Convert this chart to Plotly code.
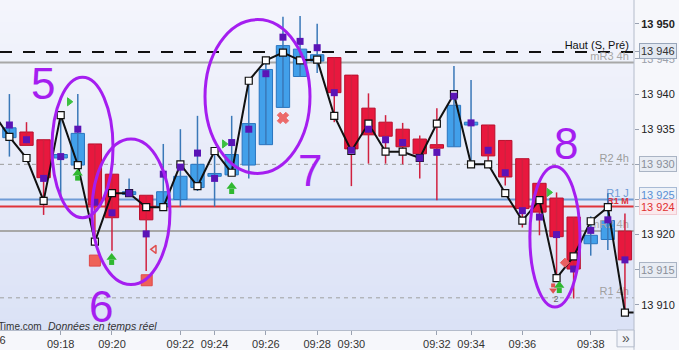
import plotly.graph_objects as go

# ---------------- data ----------------
idx = list(range(37))
opens  = [13933.8,13934.6,13933.5,13930.9,13929.9,13932.9,13928.6,13925.7,13925.6,13924.0,
          13925.0,13926.7,13928.3,13928.5,13929.9,13932.8,13938.1,13942.5,13944.7,13945.2,
          13942.7,13938.0,13936.0,13935.0,13933.6,13932.8,13932.5,13935.6,13935.6,13933.4,
          13930.8,13927.3,13925.2,13922.5,13918.7,13919.3,13920.5]
highs  = [13940.0,13936.0,13933.5,13936.9,13940.0,13932.9,13928.6,13928.0,13925.6,13932.9,
          13935.0,13936.9,13931.9,13936.9,13941.9,13944.8,13951.0,13951.1,13950.0,13945.2,
          13942.7,13940.1,13937.0,13935.9,13934.1,13938.0,13944.0,13942.0,13935.6,13933.4,
          13930.8,13927.3,13926.0,13922.5,13922.6,13925.9,13923.0]
lows   = [13931.1,13932.7,13922.8,13925.2,13929.9,13919.1,13917.7,13925.5,13914.8,13924.0,
          13924.0,13926.2,13924.0,13928.4,13928.0,13932.8,13938.1,13942.5,13943.0,13936.0,
          13926.9,13930.1,13930.1,13930.0,13928.0,13924.9,13932.5,13930.0,13930.0,13927.0,
          13921.0,13919.9,13913.8,13910.9,13917.0,13917.8,13908.9]
closes = [13935.2,13932.7,13928.1,13931.4,13934.4,13924.2,13922.4,13926.1,13922.1,13926.1,
          13928.3,13930.0,13928.7,13931.4,13935.8,13943.5,13946.9,13946.4,13945.6,13940.2,
          13932.2,13934.2,13934.0,13932.5,13931.5,13932.3,13938.4,13936.0,13931.2,13928.2,
          13923.7,13923.2,13919.7,13915.1,13919.9,13922.0,13916.4]

# purple indicator squares (one per candle)
purple = [13935.6,13933.5,13928.0,13931.1,13935.0,13924.6,13923.1,13925.9,13920.1,13928.6,
          13929.6,13931.6,13928.0,13933.1,13935.0,13942.9,13948.1,13947.5,13946.6,13940.2,
          13932.0,13935.0,13933.5,13933.1,13930.9,13931.7,13939.7,13935.9,13932.0,13928.8,
          13923.4,13922.5,13920.0,13915.1,13920.6,13922.1,13916.4]

# black line indicator (from index -1 to 37)
line_x = list(range(-1, 38))
line_y = [13937.5,13933.9,13930.9,13924.8,13937.0,13929.9,13919.0,13925.9,13925.9,13923.9,13923.9,
          13930.0,13926.9,13931.9,13928.8,13941.9,13944.8,13945.9,13944.8,13944.9,13936.9,
          13931.9,13935.8,13931.8,13931.8,13930.9,13935.8,13940.0,13930.0,13930.0,13925.9,
          13922.0,13924.9,13913.8,13916.9,13921.9,13923.9,13908.9,13908.9]

# time axis labels
time_pos    = [3, 6, 10, 12, 15, 18, 20, 25, 27, 30, 34]
time_labels = ["09:18","09:20","09:22","09:24","09:26","09:28","09:30","09:32","09:34","09:36","09:38"]

# price axis
ytick_vals   = [13950, 13945, 13940, 13935, 13920, 13910]
ytick_labels = ["<b>13 950</b>", "<span style='color:#9aa0aa'>13 945</span>",
                "13 940", "13 935", "13 920", "13 910"]

# reference levels
level_vals   = [13946, 13944.5, 13930, 13925, 13924, 13920.5, 13911]
level_names  = ["Haut (S, Pré)", "mR3 4h", "R2 4h", "R1 J", "<b>R1 M</b>", "mR2 4h", "R1 4h"]
level_colors = ["#111111", "#a8a8a8", "#9c9c9c", "#6f9bd6", "#e0343a", "#a8a8a8", "#a0a0a0"]
level_dash   = ["12px,11px", "solid", "4px,4px", "solid", "solid", "solid", "4px,4px"]
level_width  = [2, 2, 1, 2, 2, 2, 1]

# boxed price labels
box_vals   = [13946, 13930, 13925, 13924, 13915]
box_labels = ["13 946", "13 930", "13 925", "13 924", "13 915"]

# signals
green_tri_x = [3.5, 12.57, 31.56]
green_tri_y = [13938.9, 13932.9, 13926.0]
green_up_x  = [3.99, 5.98, 13.0, 32.16]
green_up_y  = [13928.5, 13916.5, 13926.6, 13912.5]
red_dn_x, red_dn_y = [31.8], [13912.3]
red_sq_x, red_sq_y = [5.0, 8.03], [13916.3, 13913.5]
red_x_x, red_x_y = [16.0], [13936.6]
red_tl_x, red_tl_y = [8.47], [13917.9]
red_dm_x, red_dm_y = [32.49], [13916.0]
count_x, count_y, count_txt = [31.97], [13910.7], ["2"]

# hand-drawn ellipses and numbers
ellipses = [(2.49, 6.06, 13922.4, 13942.4),
            (4.83, 9.39, 13912.9, 13933.6),
            (11.44, 17.58, 13928.7, 13950.6),
            (30.44, 33.37, 13909.7, 13929.7)]
numbers   = ["5", "6", "7", "8"]
numbers_x = [1.96, 5.36, 17.58, 32.55]
numbers_y = [13941.5, 13909.7, 13929.1, 13932.9]

# ---------------- figure ----------------
FONT = "Liberation Sans, Arial, sans-serif"
BLUE_F, BLUE_E, BLUE_W = "#42a0ea", "#2a75bf", "#3a78b8"
RED_F, RED_E, RED_W = "#e8183e", "#b80f2c", "#d0203f"
VIOLET = "#a51ef0"
XR = [-0.55, 36.53]
YR = [13906.42, 13953.39]
PX_PER_PT = 333 / (YR[1] - YR[0])

fig = go.Figure()

# level labels (drawn under the candles)
fig.add_trace(go.Scatter(x=[XR[1] - 0.3] * len(level_vals), y=level_vals, mode="text",
                         text=level_names, textposition="top left",
                         textfont=dict(family=FONT, size=[11, 11, 11, 11, 9, 11, 11],
                                       color=level_colors),
                         showlegend=False, hoverinfo="skip"))

up = [c >= o for o, c in zip(opens, closes)]

# wicks
for flag, col in [(True, BLUE_W), (False, RED_W)]:
    wx, wy = [], []
    for i, o, h, l, c, u in zip(idx, opens, highs, lows, closes, up):
        if u == flag:
            wx += [i, i, None]
            wy += [l, h, None]
    fig.add_trace(go.Scatter(x=wx, y=wy, mode="lines", line=dict(color=col, width=1.5),
                             hoverinfo="skip", showlegend=False))

# bodies
for flag, fc, ec in [(True, BLUE_F, BLUE_E), (False, RED_F, RED_E)]:
    bx = [i for i, u in zip(idx, up) if u == flag]
    bb = [min(opens[i], closes[i]) for i in bx]
    bh = [abs(closes[i] - opens[i]) for i in bx]
    fig.add_trace(go.Bar(x=bx, y=bh, base=bb, width=0.78,
                         marker=dict(color=fc, line=dict(color=ec, width=1)),
                         showlegend=False, hoverinfo="skip"))

# indicator line
fig.add_trace(go.Scatter(x=line_x, y=line_y, mode="lines+markers",
                         line=dict(color="#111111", width=2),
                         marker=dict(symbol="square", size=7, color="white",
                                     line=dict(color="#111111", width=1.2)),
                         showlegend=False, hoverinfo="skip"))

# purple squares
fig.add_trace(go.Scatter(x=idx, y=purple, mode="markers",
                         marker=dict(symbol="square", size=7, color="#5b14b6"),
                         showlegend=False, hoverinfo="skip"))

# signals
def add_markers(xs, ys, symbol, color, size, lc=None, lw=1):
    fig.add_trace(go.Scatter(x=xs, y=ys, mode="markers",
                             marker=dict(symbol=symbol, size=size, color=color,
                                         line=dict(color=lc or color, width=lw)),
                             showlegend=False, hoverinfo="skip"))

def add_block_arrow(xs, ys, direction, color, head, stem):
    s = 1 if direction == "up" else -1
    head_y = [y + s * 1.7 / PX_PER_PT for y in ys]
    stem_y = [y - s * 3.3 / PX_PER_PT for y in ys]
    add_markers(xs, stem_y, "square", color, stem, lw=0)
    add_markers(xs, head_y, "triangle-" + direction, color, head, lw=0)

add_markers(green_tri_x, green_tri_y, "triangle-right", "#3cc040", 7)
add_block_arrow(green_up_x, green_up_y, "up", "#2fb830", 9, 5)
add_block_arrow(red_dn_x, red_dn_y, "down", "#e05050", 7, 4)
add_markers(red_sq_x, red_sq_y, "square", "#ee6258", 11, "#e04848")
add_markers(red_x_x, red_x_y, "x", "#ec6a6a", 10)
add_markers(red_tl_x, red_tl_y, "triangle-left", "rgba(0,0,0,0)", 7, "#e05050", 1.5)
add_markers(red_dm_x, red_dm_y, "diamond", "#e86060", 7)
fig.add_trace(go.Scatter(x=count_x, y=count_y, mode="text", text=count_txt,
                         textfont=dict(family=FONT, size=9, color="#666"),
                         showlegend=False, hoverinfo="skip"))

shapes = []
# background gradient
N = 30
top, bot = (244, 245, 252), (219, 226, 246)
for k in range(N):
    t = (k + 0.5) / N
    col = tuple(round(top[j] + (bot[j] - top[j]) * t) for j in range(3))
    shapes.append(dict(type="rect", xref="paper", yref="paper", x0=0, x1=1,
                       y0=1 - (k + 1) / N, y1=1 - k / N + 0.001, layer="below",
                       line=dict(width=0), fillcolor="rgb(%d,%d,%d)" % col))
# reference lines
for v, c, d, w in zip(level_vals, level_colors, level_dash, level_width):
    shapes.append(dict(type="line", xref="paper", yref="y", x0=0, x1=1, y0=v, y1=v,
                       layer="below", line=dict(color=c, width=w, dash=d)))
# ellipses
for x0, x1, y0, y1 in ellipses:
    shapes.append(dict(type="circle", xref="x", yref="y", x0=x0, x1=x1, y0=y0, y1=y1,
                       line=dict(color=VIOLET, width=3), layer="above"))
# right separator and » button
shapes.append(dict(type="line", xref="paper", yref="paper", x0=1, x1=1, y0=-0.06, y1=1,
                   line=dict(color="#b4bccb", width=1)))
shapes.append(dict(type="rect", xref="paper", yref="paper", x0=617 / 634, x1=1,
                   y0=-17 / 333, y1=0, fillcolor="#f2f4fa", line=dict(color="#b4bccb", width=1)))

annotations = []
# boxed price labels
box_text  = ["#333333", "#8a8f99", "#5a8fd4", "#e03030", "#8a8f99"]
box_bg    = ["#e2e8f1", "#e8ecf3", "#eef2f8", "#fbe9ed", "#e8ecf3"]
box_bd    = ["#98a6ba", "#aab4c4", "#a9bbd5", "#f2cbd2", "#aab4c4"]
box_shift = [1, 0, 4, -1, 0]
for v, t, tc, bg, bd, s in zip(box_vals, box_labels, box_text, box_bg, box_bd, box_shift):
    annotations.append(dict(x=1, xref="paper", y=v, yref="y", text=t, showarrow=False,
                            xanchor="left", yanchor="middle", xshift=5, yshift=s,
                            bgcolor=bg, bordercolor=bd, borderwidth=1, borderpad=1,
                            font=dict(family=FONT, size=11, color=tc)))
# big hand-written numbers
for t, x, y in zip(numbers, numbers_x, numbers_y):
    annotations.append(dict(x=x, y=y, xref="x", yref="y", text=t, showarrow=False,
                            font=dict(family=FONT, size=44, color=VIOLET)))
# footer texts
annotations.append(dict(x=44 / 634, xref="paper", y=-4 / 333, yref="paper", text="ProRealTime.com",
                        showarrow=False, xanchor="right", yanchor="bottom",
                        font=dict(family=FONT, size=10, color="#333333")))
annotations.append(dict(x=46 / 634, xref="paper", y=-4 / 333, yref="paper",
                        text="<i>Données en temps réel</i>", showarrow=False,
                        xanchor="left", yanchor="bottom",
                        font=dict(family=FONT, size=10.5, color="#333333")))
annotations.append(dict(x=-7.7 / 634, xref="paper", y=-10 / 333, yref="paper", text="09:16",
                        showarrow=False, xanchor="center", yanchor="middle",
                        font=dict(family=FONT, size=11, color="#333333")))
annotations.append(dict(x=625.5 / 634, xref="paper", y=-8.5 / 333, yref="paper", text="»",
                        showarrow=False, xanchor="center", yanchor="middle",
                        font=dict(family=FONT, size=14, color="#555555")))

fig.update_layout(
    width=679, height=350, autosize=False,
    margin=dict(l=0, r=45, t=0, b=17, pad=0),
    paper_bgcolor="#f6f7fb", plot_bgcolor="#e6eaf8",
    barmode="overlay", showlegend=False,
    shapes=shapes, annotations=annotations,
    font=dict(family=FONT, size=11, color="#333333"),
    xaxis=dict(range=XR, tickvals=time_pos, ticktext=time_labels,
               ticks="outside", ticklen=4, tickcolor="#9aa2b2", showgrid=False,
               zeroline=False, showline=True, linecolor="#b4bccb", linewidth=1,
               tickfont=dict(family=FONT, size=11, color="#333333"), fixedrange=True),
    yaxis=dict(range=YR, side="right", tickvals=ytick_vals + box_vals,
               ticktext=ytick_labels + [""] * len(box_vals), ticks="outside", ticklen=4,
               tickcolor="#9aa2b2", showgrid=False, zeroline=False, showline=False,
               tickfont=dict(family=FONT, size=11, color="#222222"), fixedrange=True),
)

fig.write_html("out.html")
